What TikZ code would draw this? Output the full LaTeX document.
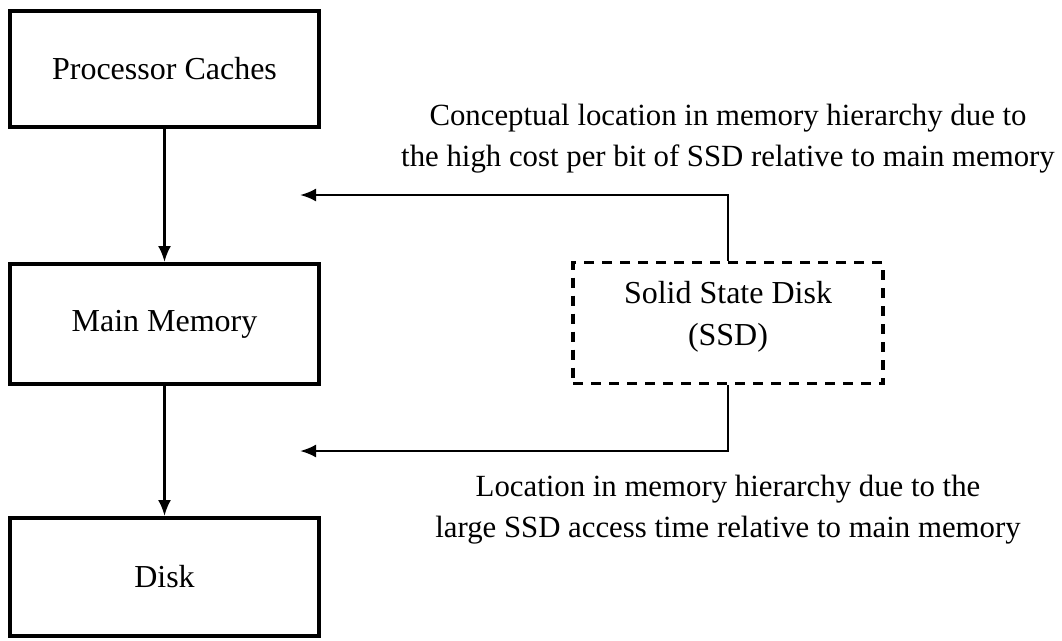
\documentclass[tikz,border=0pt]{standalone}
\usepackage{fontspec}
\setmainfont{Liberation Serif}
\usetikzlibrary{arrows.meta}

\begin{document}
\begin{tikzpicture}[x=1pt, y=-1pt,
  every node/.style={font=\fontsize{32}{42}\selectfont, inner sep=0pt},
  level/.style={draw, line width=4pt, minimum width=309pt},
  ssdbox/.style={draw, dash pattern=on 10pt off 8pt, line width=3.5pt,
                 minimum width=310pt, minimum height=121pt, align=center},
  flow/.style={line width=2.5pt, -{Latex[length=16pt, width=13pt]}},
  note/.style={align=center, font=\fontsize{30.8}{41}\selectfont}]
  \useasboundingbox (0,0) rectangle (1062,640);

  % memory hierarchy levels
  \node[level, minimum height=116pt] (pc)  at (164.5, 69)  {Processor Caches};
  \node[level, minimum height=120pt] (mm)  at (164.5, 324) {Main Memory};
  \node[level, minimum height=118pt] (dsk) at (164.5, 577) {Disk};

  \draw[flow] (pc.south) -- (mm.north);
  \draw[flow] (mm.south) -- (dsk.north);

  % the SSD and its two possible places in the hierarchy
  \node[ssdbox] (ssd) at (728, 323) {};
  \node[align=center] (ssdtext) at (728, 317) {Solid State Disk\\(SSD)};

  \coordinate (upper) at (300, 195);
  \coordinate (lower) at (300, 451);
  \draw[flow] (ssd.north) |- (upper);
  \draw[flow] (ssd.south) |- (lower);

  \node[note] (cost) at (728, 139)
    {Conceptual location in memory hierarchy due to\\the high cost per bit of SSD relative to main memory};
  \node[note] (time) at (728, 510)
    {Location in memory hierarchy due to the\\large SSD access time relative to main memory};
\end{tikzpicture}
\end{document}
